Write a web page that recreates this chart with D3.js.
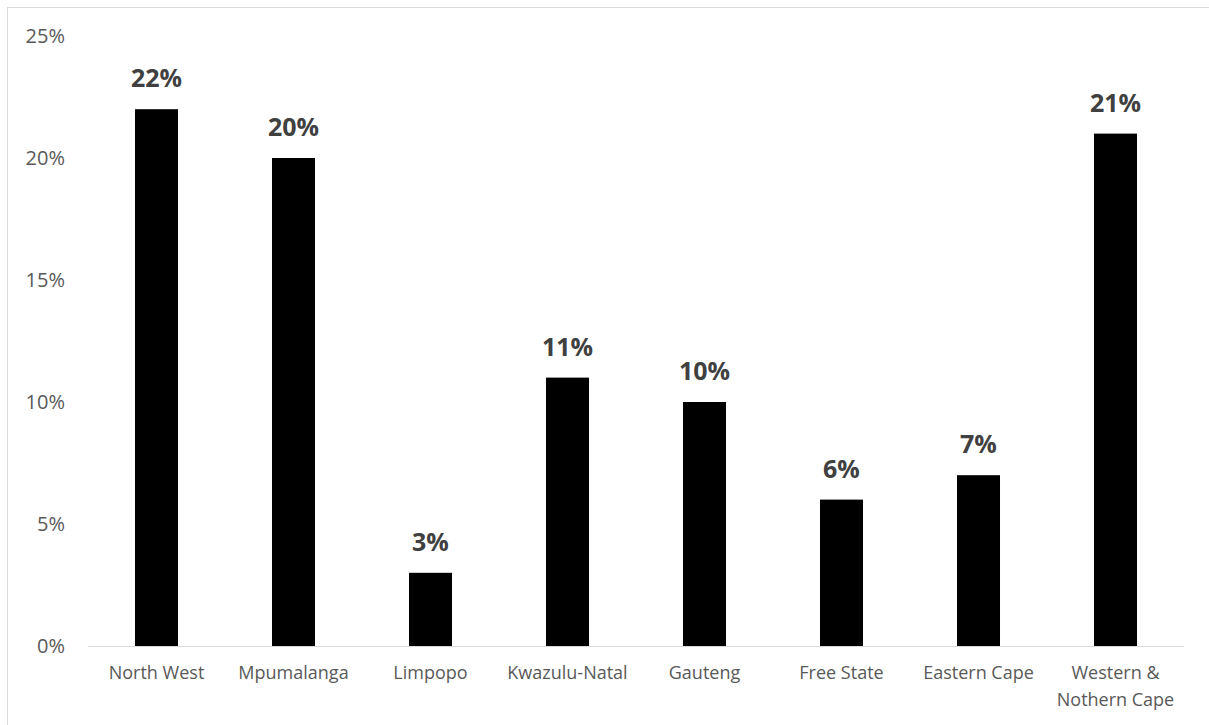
<!DOCTYPE html>
<html>
<head>
<meta charset="utf-8">
<script src="https://cdn.jsdelivr.net/npm/d3@7"></script>
<style>
  body { margin: 0; background: #fff; }
  svg { display: block; font-family: "Open Sans", "Noto Sans", sans-serif; }
</style>
</head>
<body>
<svg id="chart" width="1209" height="725"></svg>
<script>
// Anteile pro Provinz
const provinces = ["North West", "Mpumalanga", "Limpopo", "Kwazulu-Natal", "Gauteng",
  "Free State", "Eastern Cape", "Western & Nothern Cape"];
const shares = [22, 20, 3, 11, 10, 6, 7, 21];
const yTicks = [0, 5, 10, 15, 20, 25];

const svg = d3.select("#chart");
const margin = { top: 36, right: 25, bottom: 79, left: 88 };
const width = 1209 - margin.left - margin.right;
const height = 725 - margin.top - margin.bottom;

// Rahmen
svg.append("rect")
  .attr("x", 7.5).attr("y", 7.5)
  .attr("width", 1209).attr("height", 725)
  .attr("fill", "none")
  .attr("stroke", "#d9d9d9")
  .attr("stroke-width", 1);

const g = svg.append("g")
  .attr("transform", `translate(${margin.left},${margin.top})`);

const x = d3.scaleBand().domain(provinces).range([0, width]).padding(0);
const y = d3.scaleLinear().domain([0, 25]).range([height, 0]);
const barW = x.bandwidth() * 0.314;

// Baseline
g.append("line")
  .attr("x1", 0).attr("x2", width)
  .attr("y1", y(0) + 0.5).attr("y2", y(0) + 0.5)
  .attr("stroke", "#d9d9d9").attr("stroke-width", 1);

// y-Achse (nur Beschriftungen)
g.selectAll("text.ytick")
  .data(yTicks)
  .enter()
  .append("text")
    .attr("class", "ytick")
    .attr("x", -23)
    .attr("y", d => y(d))
    .attr("dy", "0.35em")
    .attr("text-anchor", "end")
    .attr("fill", "#595959")
    .attr("font-size", "20px")
    .text(d => d + "%");

// Balken
g.selectAll("rect.bar")
  .data(shares)
  .enter()
  .append("rect")
    .attr("class", "bar")
    .attr("x", (d, i) => x(provinces[i]) + (x.bandwidth() - barW) / 2)
    .attr("y", d => y(d))
    .attr("width", barW)
    .attr("height", d => y(0) - y(d))
    .attr("fill", "#000");

// Wertelabels
g.selectAll("text.val")
  .data(shares)
  .enter()
  .append("text")
    .attr("class", "val")
    .attr("x", (d, i) => x(provinces[i]) + x.bandwidth() / 2)
    .attr("y", d => y(d) - 22)
    .attr("text-anchor", "middle")
    .attr("fill", "#404040")
    .attr("font-size", "25px")
    .attr("font-weight", "700")
    .text(d => d + "%");

// Kategorien
const catLabels = g.selectAll("text.cat")
  .data(provinces)
  .enter()
  .append("text")
    .attr("class", "cat")
    .attr("x", d => x(d) + x.bandwidth() / 2)
    .attr("y", height + 33)
    .attr("text-anchor", "middle")
    .attr("fill", "#595959")
    .attr("font-size", "18px");

catLabels.each(function(d) {
  const t = d3.select(this);
  const lines = d === "Western & Nothern Cape" ? ["Western &", "Nothern Cape"] : [d];
  lines.forEach((l, i) => {
    t.append("tspan")
      .attr("x", x(d) + x.bandwidth() / 2)
      .attr("dy", i === 0 ? 0 : 27)
      .text(l);
  });
});
</script>
</body>
</html>
